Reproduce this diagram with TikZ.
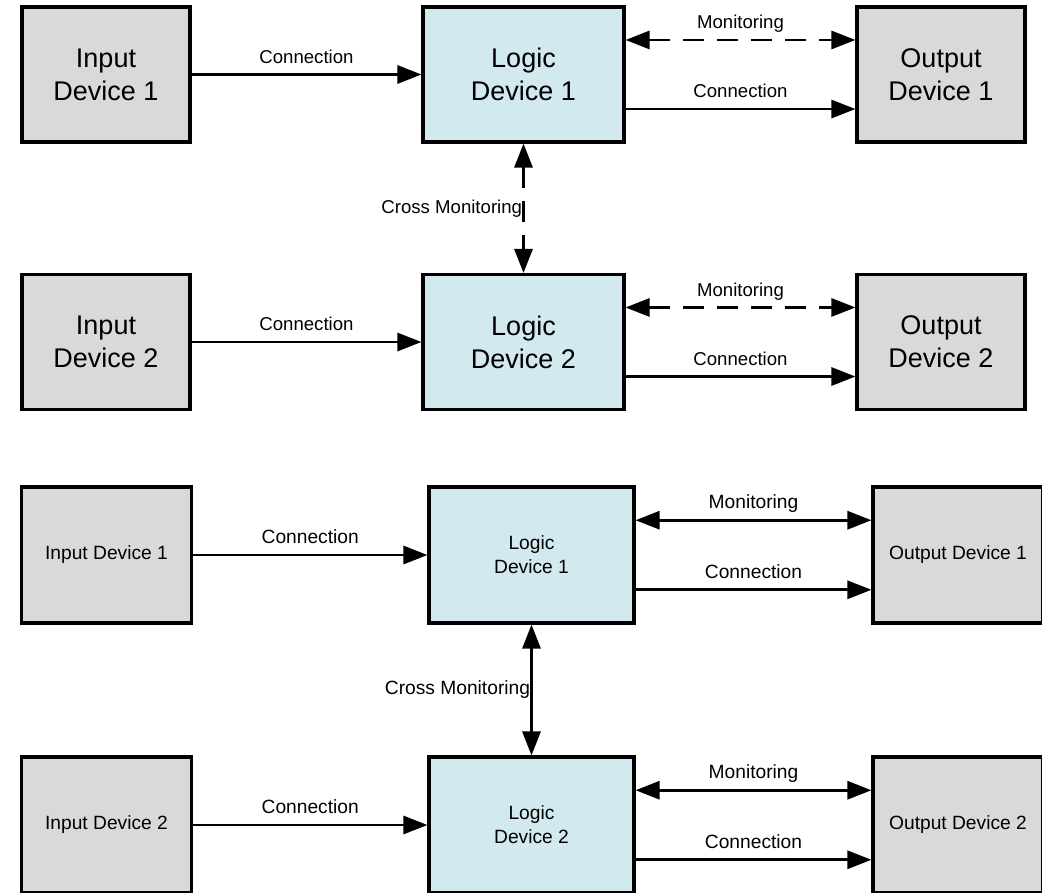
\documentclass[tikz,border=0pt]{standalone}
\usepackage{fontspec}
\setmainfont{Liberation Sans}
\usetikzlibrary{arrows.meta,calc}
\definecolor{boxgray}{HTML}{D9D9D9}
\definecolor{boxblue}{HTML}{D2E9EF}
\tikzset{
  box/.style={draw=black, line width=3.1pt, align=center, inner sep=0pt, text=black},
  gbox/.style={box, fill=boxgray},
  bbox/.style={box, fill=boxblue},
  conn/.style={line width=2.9pt, -{Triangle[length=24pt,width=18pt]}},
  bidir/.style={line width=2.9pt, {Triangle[length=24pt,width=18pt]}-{Triangle[length=24pt,width=18pt]}},
  dashedpat/.style={dash pattern=on 21pt off 13pt},
  bigtxt/.style={font=\fontsize{27pt}{33pt}\selectfont},
  smallA/.style={font=\fontsize{18.6pt}{22pt}\selectfont},
  smallB/.style={font=\fontsize{19.2pt}{24pt}\selectfont},
  lbl/.style={inner sep=0pt, text height=13.5pt, text depth=4pt, above=6pt, text=black},
  xlbl/.style={inner sep=0pt, fill=white, anchor=east, text height=14pt, text depth=4.5pt, text=black},
  topg/.style={gbox, minimum width=168pt, minimum height=135pt, bigtxt},
  topb/.style={bbox, minimum width=201pt, minimum height=135pt, bigtxt},
  botg/.style={gbox, minimum width=170pt, minimum height=136pt, smallB},
  botb/.style={bbox, minimum width=205pt, minimum height=136pt, smallB},
}
\begin{document}
\begin{tikzpicture}[x=1pt, y=-1pt]
\useasboundingbox (0,0) rectangle (1042,892);
\clip (0,0) rectangle (1042,892);

% ---------- upper diagram ----------
\node[topg] (I1) at (106,74.5) {Input\\Device 1};
\node[topb] (L1) at (523.5,74.5) {Logic\\Device 1};
\node[topg] (O1) at (941,74.5) {Output\\Device 1};
\node[topg] (I2) at (106,342) {Input\\Device 2};
\node[topb] (L2) at (523.5,342) {Logic\\Device 2};
\node[topg] (O2) at (941,342) {Output\\Device 2};

\draw[conn] (I1.east) -- node[lbl, smallA, midway] {Connection} (L1.west);
\draw[bidir, dashedpat] ($(L1.north east)!.25!(L1.south east)$) -- node[lbl, smallA, midway] {Monitoring} ($(O1.north west)!.25!(O1.south west)$);
\draw[conn] ($(L1.north east)!.75!(L1.south east)$) -- node[lbl, smallA, midway] {Connection} ($(O1.north west)!.75!(O1.south west)$);

\draw[conn] (I2.east) -- node[lbl, smallA, midway] {Connection} (L2.west);
\draw[bidir, dashedpat] ($(L2.north east)!.25!(L2.south east)$) -- node[lbl, smallA, midway] {Monitoring} ($(O2.north west)!.25!(O2.south west)$);
\draw[conn] ($(L2.north east)!.75!(L2.south east)$) -- node[lbl, smallA, midway] {Connection} ($(O2.north west)!.75!(O2.south west)$);

\draw[bidir, dashedpat] (L1.south) -- node[xlbl, smallA, midway] {Cross Monitoring} (L2.north);

% ---------- lower diagram ----------
\node[botg] (I3) at (106.5,555) {Input Device 1};
\node[botb] (L3) at (531.5,555) {Logic\\Device 1};
\node[botg] (O3) at (958,555) {Output Device 1};
\node[botg] (I4) at (106.5,825) {Input Device 2};
\node[botb] (L4) at (531.5,825) {Logic\\Device 2};
\node[botg] (O4) at (958,825) {Output Device 2};

\draw[conn] (I3.east) -- node[lbl, smallB, midway] {Connection} (L3.west);
\draw[bidir] ($(L3.north east)!.25!(L3.south east)$) -- node[lbl, smallB, midway] {Monitoring} ($(O3.north west)!.25!(O3.south west)$);
\draw[conn] ($(L3.north east)!.75!(L3.south east)$) -- node[lbl, smallB, midway] {Connection} ($(O3.north west)!.75!(O3.south west)$);

\draw[conn] (I4.east) -- node[lbl, smallB, midway] {Connection} (L4.west);
\draw[bidir] ($(L4.north east)!.25!(L4.south east)$) -- node[lbl, smallB, midway] {Monitoring} ($(O4.north west)!.25!(O4.south west)$);
\draw[conn] ($(L4.north east)!.75!(L4.south east)$) -- node[lbl, smallB, midway] {Connection} ($(O4.north west)!.75!(O4.south west)$);

\draw[bidir] (L3.south) -- node[xlbl, smallB, midway] {Cross Monitoring} (L4.north);
\end{tikzpicture}
\end{document}
